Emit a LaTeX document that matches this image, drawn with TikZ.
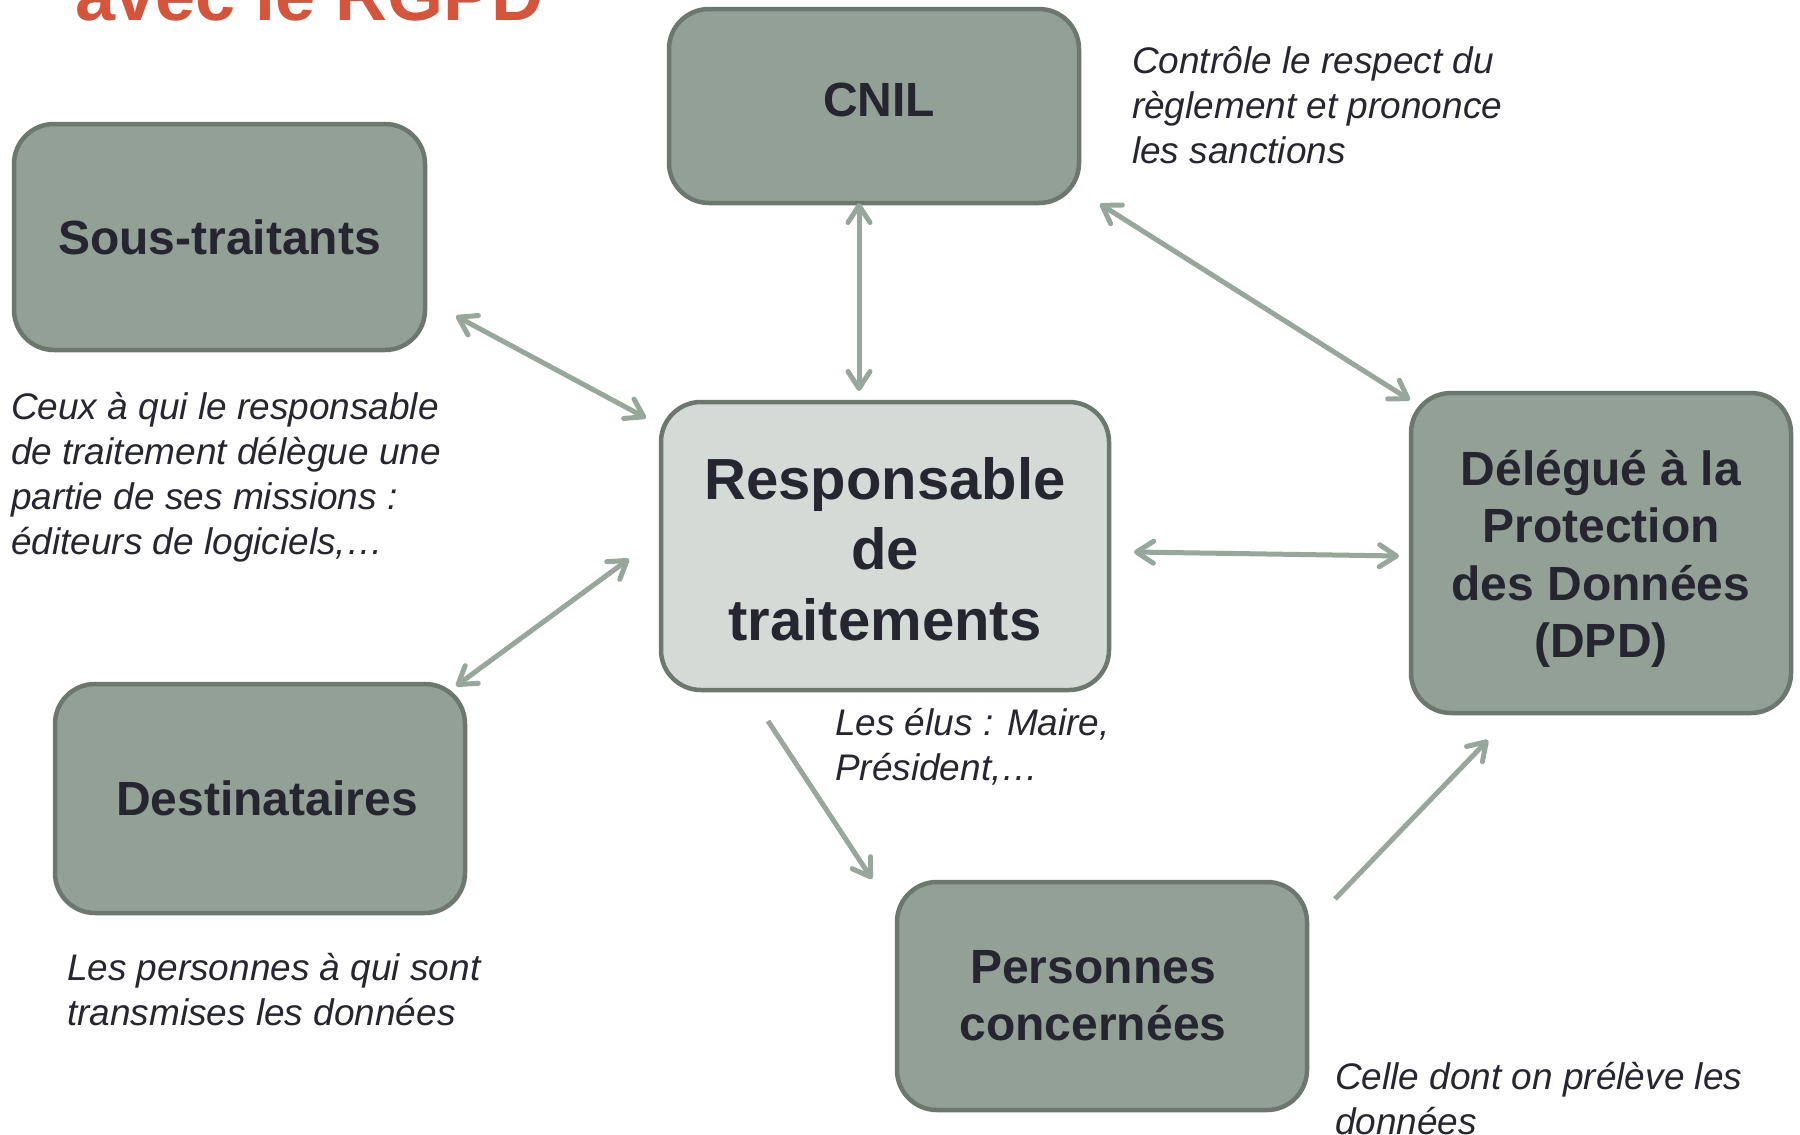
\documentclass[tikz,border=0pt]{standalone}
\usepackage{fontspec}
\setmainfont{Liberation Sans}
\usetikzlibrary{arrows.meta,calc}
\definecolor{boxfill}{HTML}{92A096}
\definecolor{boxline}{HTML}{6C776E}
\definecolor{respfill}{HTML}{D4DBD6}
\definecolor{arrowcol}{HTML}{97A79B}
\definecolor{txtcol}{HTML}{262630}
\definecolor{titlered}{HTML}{D4553C}
\tikzset{
  actor/.style={draw=boxline, fill=boxfill, line width=4.5pt, rounded corners=40pt,
    inner sep=0pt, outer sep=0pt, align=center, text=txtcol,
    font=\bfseries\fontsize{48}{57.4}\selectfont},
  note/.style={anchor=base west, align=left, inner sep=0pt, outer sep=0pt, text=txtcol,
    font=\itshape\fontsize{37}{45}\selectfont},
  link/.style={draw=arrowcol, line width=5pt,
    arrows={-Straight Barb[length=17pt,width=22pt,round]}},
  bilink/.style={link, arrows={Straight Barb[length=17pt,width=22pt,round]-Straight Barb[length=17pt,width=22pt,round]}}
}
\begin{document}
\begin{tikzpicture}[x=1pt,y=-1pt]
\useasboundingbox (0,0) rectangle (1800,1135);
\fill[white] (0,0) rectangle (1800,1135);
\node[anchor=base west, inner sep=0pt, text=titlered, font=\bfseries\fontsize{72}{86}\selectfont] (title) at (75,20) {avec le RGPD};

\node[actor, minimum width=410pt, minimum height=194pt] (cnil) at (874,106) {\hspace*{10pt}\raisebox{13pt}{CNIL}};
\node[actor, minimum width=411pt, minimum height=226pt] (sous) at (219.5,237) {Sous-traitants};
\node[actor, fill=respfill, minimum width=448pt, minimum height=288pt, font=\bfseries\fontsize{58}{70.6}\selectfont] (resp) at (885,546) {\rule{0pt}{48pt}Responsable\\de\\traitements};
\node[actor, minimum width=380pt, minimum height=320pt] (dpd) at (1601,553) {\rule{0pt}{47pt}Délégué à la\\Protection\\des Données\\(DPD)};
\node[actor, minimum width=410pt, minimum height=229pt] (dest) at (260,798.5) {\hspace*{14pt}Destinataires};
\node[actor, minimum width=410pt, minimum height=228pt] (pers) at (1102,996) {Personnes\hspace*{18pt}\\concernées\hspace*{18pt}};

\node[note] (cnilnote) at (1132,163) {Contrôle le respect du\\règlement et prononce\\les sanctions};
\node[note] (sousnote) at (11,554) {Ceux à qui le responsable\\de traitement délègue une\\partie de ses missions :\\éditeurs de logiciels,…};
\node[note] (respnote) at (835,780) {Les élus : Maire,\\Président,…};
\node[note] (destnote) at (67,1025) {Les personnes à qui sont\\transmises les données};
\node[note] (persnote) at (1335,1134) {Celle dont on prélève les\\données};

\draw[bilink] ($(cnil.center)+(-15,97)$) -- ($(resp.center)+(-26,-155)$);
\draw[bilink] ($(sous.center)+(236.5,79)$) -- ($(resp.center)+(-239,-128)$);
\draw[bilink] ($(cnil.center)+(226,98)$) -- ($(dpd.center)+(-191,-153)$);
\draw[bilink] ($(resp.center)+(249,6)$) -- ($(dpd.center)+(-202,3)$);
\draw[bilink] ($(dest.center)+(196,-112.5)$) -- ($(resp.center)+(-256,13)$);
\draw[link] ($(resp.center)+(-117,175)$) -- ($(pers.center)+(-230,-117)$);
\draw[link] ($(pers.center)+(233,-97)$) -- ($(dpd.center)+(-113,187)$);
\end{tikzpicture}
\end{document}
